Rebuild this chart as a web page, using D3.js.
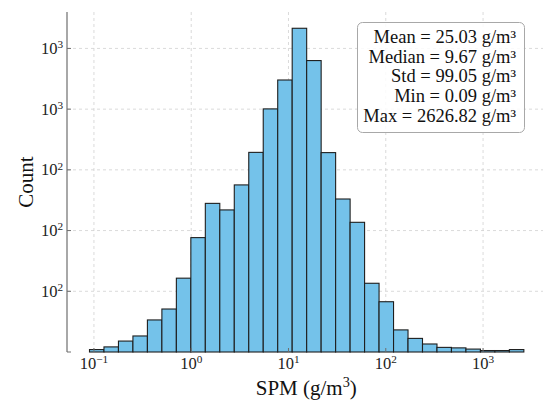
<!DOCTYPE html>
<html>
<head>
<meta charset="utf-8">
<script src="https://cdn.jsdelivr.net/npm/d3@7"></script>
<style>
  body { margin: 0; background: #fff; }
  svg { display: block; font-family: "Liberation Serif", "DejaVu Serif", serif; }
</style>
</head>
<body>
<div id="chart"></div>
<script>
// histogram counts per log-spaced bin
const binMin = 0.09;
const binMax = 2626.82;
const counts = [10, 21, 45, 66, 132, 177, 304, 471, 612, 585, 688, 822, 1001, 1120, 1333,
                1200, 821, 630, 534, 283, 207, 91, 56, 33, 19, 17, 12, 6, 6, 10];

const xTicks = [0.1, 1, 10, 100, 1000];
const xTickLabels = ["10^−1", "10^0", "10^1", "10^2", "10^3"];
const yTicks = [250, 500, 750, 1000, 1250];
const yTickLabels = ["10^2", "10^2", "10^2", "10^3", "10^3"];

const statLines = ["Mean = 25.03 g/m³", "Median = 9.67 g/m³", "Std = 99.05 g/m³",
                   "Min = 0.09 g/m³", "Max = 2626.82 g/m³"];

const width = 543, height = 401;
const margin = { left: 67, top: 12, bottom: 49 };
const plotRight = 545.5;
const plotBottom = height - margin.bottom;

// log bin edges between min and max
const nBins = counts.length;
const lo = Math.log10(binMin), hi = Math.log10(binMax);
const edges = d3.range(nBins + 1).map(i => Math.pow(10, lo + (hi - lo) * i / nBins));
const bins = counts.map((c, i) => ({ x0: edges[i], x1: edges[i + 1], count: c }));

const x = d3.scaleLog()
    .domain([Math.pow(10, -1.277), Math.pow(10, 3.642)])
    .range([margin.left, plotRight]);
const y = d3.scaleLinear()
    .domain([0, 1400])
    .range([plotBottom, margin.top]);

const svg = d3.select("#chart")
    .append("svg")
    .attr("width", width)
    .attr("height", height);

// grid
svg.append("g").selectAll("line")
    .data(xTicks)
    .enter().append("line")
    .attr("x1", d => x(d)).attr("x2", d => x(d))
    .attr("y1", margin.top).attr("y2", plotBottom)
    .attr("stroke", "#d0d0d0").attr("stroke-width", 0.8)
    .attr("stroke-dasharray", "3,3");

svg.append("g").selectAll("line")
    .data(yTicks)
    .enter().append("line")
    .attr("x1", margin.left).attr("x2", plotRight)
    .attr("y1", d => y(d)).attr("y2", d => y(d))
    .attr("stroke", "#d0d0d0").attr("stroke-width", 0.8)
    .attr("stroke-dasharray", "3,3");

// bars
svg.append("g").selectAll("rect")
    .data(bins)
    .enter().append("rect")
    .attr("x", d => x(d.x0))
    .attr("width", d => x(d.x1) - x(d.x0))
    .attr("y", d => y(d.count))
    .attr("height", d => y(0) - y(d.count))
    .attr("fill", "#74c2ea")
    .attr("stroke", "#1e1e1e")
    .attr("stroke-width", 1.1);

// left spine + ticks
svg.append("line")
    .attr("x1", margin.left).attr("x2", margin.left)
    .attr("y1", margin.top).attr("y2", plotBottom)
    .attr("stroke", "#6e6e6e").attr("stroke-width", 1.2);

svg.append("g").selectAll("line")
    .data([0].concat(yTicks))
    .enter().append("line")
    .attr("x1", margin.left).attr("x2", margin.left + 4)
    .attr("y1", d => y(d)).attr("y2", d => y(d))
    .attr("stroke", "#6e6e6e").attr("stroke-width", 1);

svg.append("g").selectAll("line")
    .data(xTicks)
    .enter().append("line")
    .attr("x1", d => x(d)).attr("x2", d => x(d))
    .attr("y1", plotBottom).attr("y2", plotBottom - 4)
    .attr("stroke", "#6e6e6e").attr("stroke-width", 1);

// "10^n" label helper
function powLabel(sel, s) {
    const [base, exp] = s.split("^");
    sel.append("tspan").text(base);
    sel.append("tspan").attr("font-size", "0.68em").attr("dy", "-0.5em").text(exp);
}

svg.append("g").selectAll("text")
    .data(xTicks)
    .enter().append("text")
    .attr("x", d => x(d))
    .attr("y", plotBottom + 17)
    .attr("text-anchor", "middle")
    .attr("font-size", 16.5)
    .attr("fill", "#222")
    .each(function (d, i) { powLabel(d3.select(this), xTickLabels[i]); });

svg.append("g").selectAll("text")
    .data(yTicks)
    .enter().append("text")
    .attr("x", margin.left - 4)
    .attr("y", d => y(d) + 5.5)
    .attr("text-anchor", "end")
    .attr("font-size", 16.5)
    .attr("fill", "#222")
    .each(function (d, i) { powLabel(d3.select(this), yTickLabels[i]); });

// axis labels
const xl = svg.append("text")
    .attr("x", (margin.left + plotRight) / 2)
    .attr("y", 395)
    .attr("text-anchor", "middle")
    .attr("font-size", 21)
    .attr("fill", "#111");
xl.append("tspan").text("SPM (g/m");
xl.append("tspan").attr("font-size", "0.68em").attr("dy", "-0.55em").text("3");
xl.append("tspan").attr("dy", "0.37em").text(")");

svg.append("text")
    .attr("transform", `translate(33,${(margin.top + plotBottom) / 2}) rotate(-90)`)
    .attr("text-anchor", "middle")
    .attr("font-size", 21)
    .attr("fill", "#111")
    .text("Count");

// stats box
const box = svg.append("g");
box.append("rect")
    .attr("x", 357.5).attr("y", 22.5)
    .attr("width", 167).attr("height", 110)
    .attr("rx", 5)
    .attr("fill", "#fff").attr("fill-opacity", 0.85)
    .attr("stroke", "#a8a8a8").attr("stroke-width", 1);

box.selectAll("text")
    .data(statLines)
    .enter().append("text")
    .attr("x", 516)
    .attr("y", (d, i) => 43 + i * 19.7)
    .attr("text-anchor", "end")
    .attr("font-size", 18.5)
    .attr("fill", "#111")
    .text(d => d);
</script>
</body>
</html>
